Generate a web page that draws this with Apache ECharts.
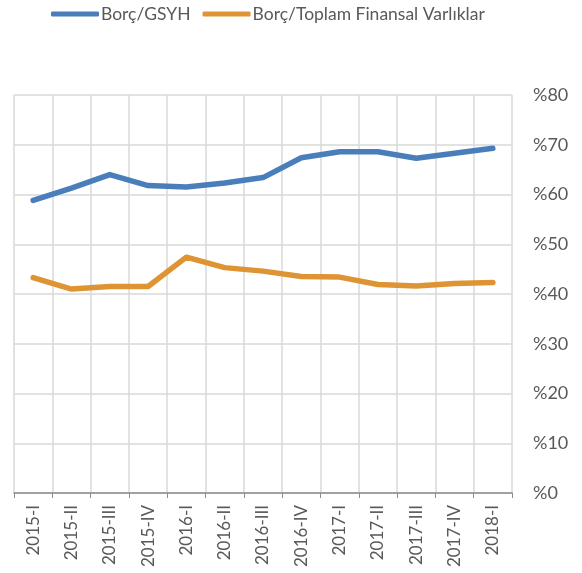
<!DOCTYPE html>
<html>
<head>
<meta charset="utf-8">
<script src="https://cdn.jsdelivr.net/npm/echarts@6/dist/echarts.min.js"></script>
<style>
  html, body { margin: 0; padding: 0; background: #fff; }
  #chart { width: 582px; height: 573px; }
</style>
</head>
<body>
<div id="chart"></div>
<script>
// çeyrekler
var quarters = ['2015-I', '2015-II', '2015-III', '2015-IV', '2016-I', '2016-II', '2016-III',
  '2016-IV', '2017-I', '2017-II', '2017-III', '2017-IV', '2018-I'];
// Borç/GSYH (%)
var borcGsyh = [58.8, 61.3, 64.0, 61.8, 61.5, 62.3, 63.4, 67.4, 68.6, 68.6, 67.3, 68.3, 69.3];
// Borç/Toplam Finansal Varlıklar (%)
var borcVarlik = [43.3, 41.0, 41.5, 41.5, 47.4, 45.3, 44.6, 43.5, 43.4, 41.9, 41.6, 42.1, 42.3];
var yTicks = [0, 10, 20, 30, 40, 50, 60, 70, 80];

var chart = echarts.init(document.getElementById('chart'));
var font = 'Lato, "Open Sans", sans-serif';

var option = {
  animation: false,
  color: ['#4A7EBB', '#DE9433'],
  legend: {
    top: 0,
    left: 46,
    itemWidth: 48,
    itemHeight: 5,
    itemGap: 12,
    icon: 'roundRect',
    textStyle: { fontFamily: font, fontSize: 17.5, color: '#595959', padding: [0, 0, 0, -3] },
    data: ['Borç/GSYH', 'Borç/Toplam Finansal Varlıklar']
  },
  grid: { left: 14, right: 70, top: 95, bottom: 80 },
  xAxis: {
    type: 'category',
    data: quarters,
    boundaryGap: true,
    axisLine: { lineStyle: { color: '#8C8C8C', width: 1.5 } },
    axisTick: { show: true, length: 5, lineStyle: { color: '#8C8C8C' } },
    splitLine: { show: true, lineStyle: { color: '#D9D9D9', width: 1.5 } },
    axisLabel: {
      rotate: 90,
      margin: 12,
      interval: 0,
      fontFamily: font,
      fontSize: 17,
      color: '#595959'
    }
  },
  yAxis: {
    type: 'value',
    position: 'right',
    min: yTicks[0],
    max: yTicks[yTicks.length - 1],
    interval: 10,
    axisLine: { show: false },
    axisTick: { show: false },
    splitLine: { lineStyle: { color: '#D9D9D9', width: 1.5 } },
    axisLabel: {
      margin: 21,
      fontFamily: font,
      fontSize: 18,
      color: '#595959',
      formatter: function (v) { return '%' + v; }
    }
  },
  series: [
    {
      name: 'Borç/GSYH',
      type: 'line',
      data: borcGsyh,
      symbol: 'none',
      lineStyle: { width: 5.5, cap: 'round', join: 'round' }
    },
    {
      name: 'Borç/Toplam Finansal Varlıklar',
      type: 'line',
      data: borcVarlik,
      symbol: 'none',
      lineStyle: { width: 5.5, cap: 'round', join: 'round' }
    }
  ]
};
chart.setOption(option);
</script>
</body>
</html>
